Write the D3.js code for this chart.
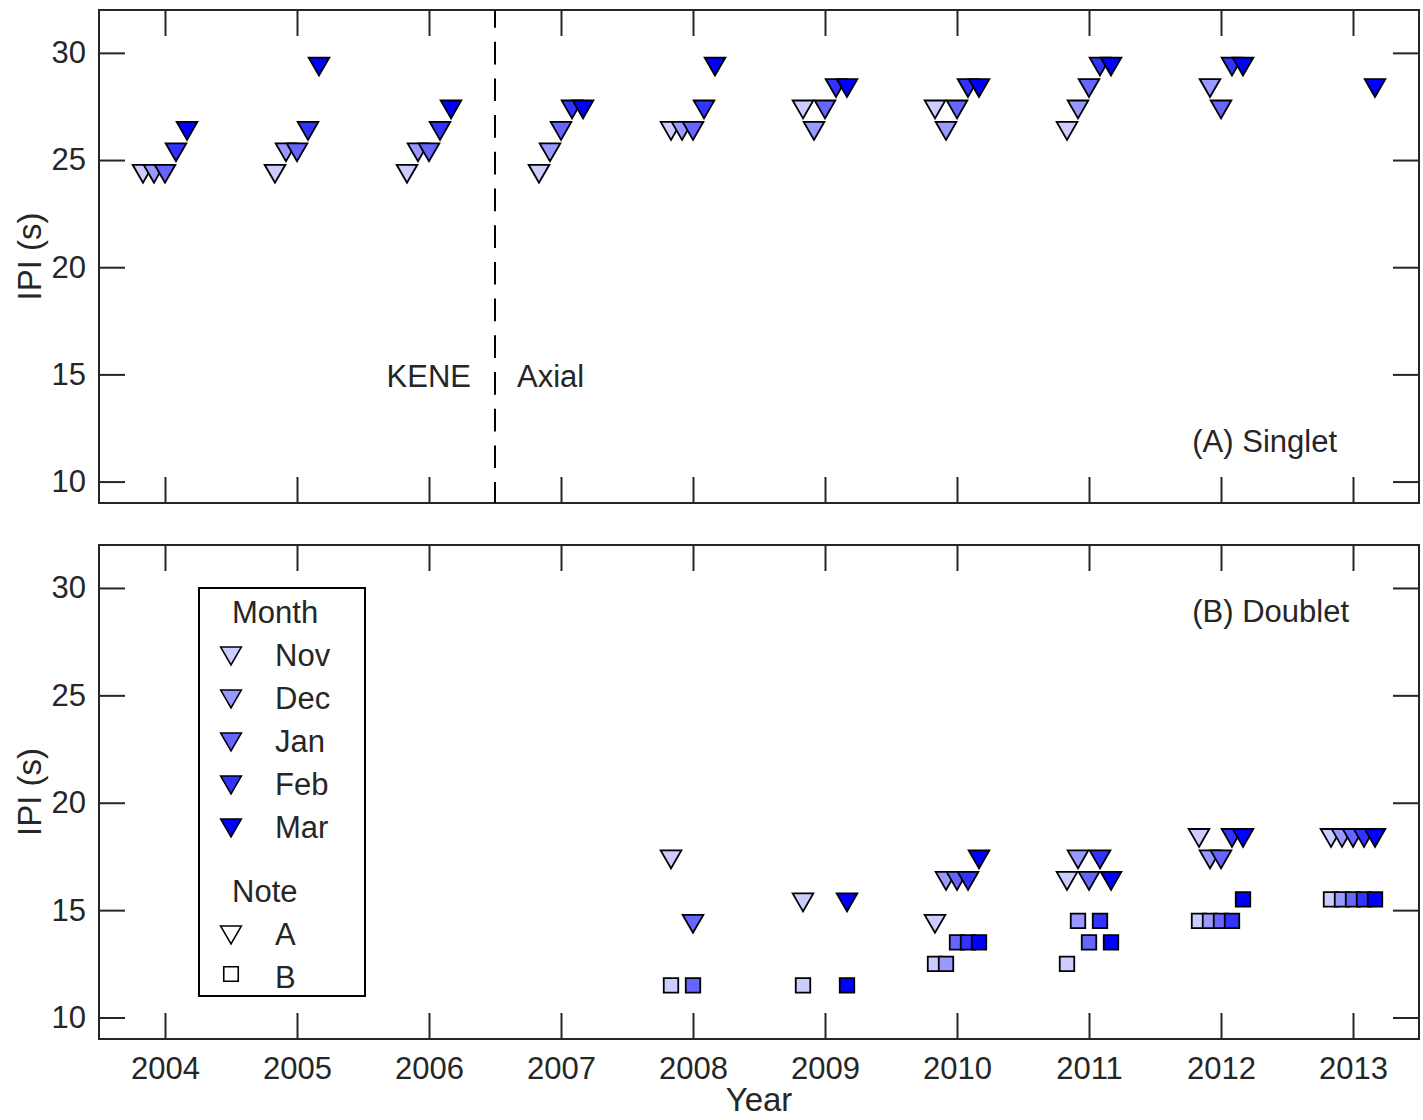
<!DOCTYPE html>
<html lang="en">
<head>
<meta charset="UTF-8">
<script src="https://d3js.org/d3.v7.min.js"></script>
<title>IPI by season</title>
<style>
  * { margin: 0; padding: 0; }
  body { background: #fff; }
  svg { display: block; font-family: "Liberation Sans", Arial, Helvetica, sans-serif; }
  .axis text { font-size: 31px; fill: #262626; }
  .axis line { stroke: #262626; stroke-width: 2; }
  .lbl { font-size: 31px; fill: #262626; }
  .title { font-size: 33px; fill: #262626; }
</style>
</head>
<body>
<svg id="chart" width="1423" height="1120"></svg>
<script>
// seasons (year of the Jan in each Nov-Mar season)
const seasons = [2004, 2005, 2006, 2007, 2008, 2009, 2010, 2011, 2012, 2013];
const months = ['Nov', 'Dec', 'Jan', 'Feb', 'Mar'];
const monthOffset = [-2, -1, 0, 1, 2]; // months from January
const yTicks = [10, 15, 20, 25, 30];

// IPI (s) per season (rows) and month (columns), null = nothing recorded
const singletA = [
  [24.5, 24.5, 24.5, 25.5, 26.5],
  [24.5, 25.5, 25.5, 26.5, 29.5],
  [24.5, 25.5, 25.5, 26.5, 27.5],
  [24.5, 25.5, 26.5, 27.5, 27.5],
  [26.5, 26.5, 26.5, 27.5, 29.5],
  [27.5, 26.5, 27.5, 28.5, 28.5],
  [27.5, 26.5, 27.5, 28.5, 28.5],
  [26.5, 27.5, 28.5, 29.5, 29.5],
  [null, 28.5, 27.5, 29.5, 29.5],
  [null, null, null, null, 28.5]
];
const doubletA = [
  [null, null, null, null, null],
  [null, null, null, null, null],
  [null, null, null, null, null],
  [null, null, null, null, null],
  [17.5, null, 14.5, null, null],
  [15.5, null, null, null, 15.5],
  [14.5, 16.5, 16.5, 16.5, 17.5],
  [16.5, 17.5, 16.5, 17.5, 16.5],
  [18.5, 17.5, 17.5, 18.5, 18.5],
  [18.5, 18.5, 18.5, 18.5, 18.5]
];
const doubletB = [
  [null, null, null, null, null],
  [null, null, null, null, null],
  [null, null, null, null, null],
  [null, null, null, null, null],
  [11.5, null, 11.5, null, null],
  [11.5, null, null, null, 11.5],
  [12.5, 12.5, 13.5, 13.5, 13.5],
  [12.5, 14.5, 13.5, 14.5, 13.5],
  [14.5, 14.5, 14.5, 14.5, 15.5],
  [15.5, 15.5, 15.5, 15.5, 15.5]
];

const colors = ['#ccccff', '#9999ff', '#6666ff', '#3333ff', '#0000ff'];
const svg = d3.select('#chart');
const left = 99, right = 1419, tick = 26;

const x = d3.scaleLinear().domain([2003.5, 2013.5]).range([left, right]);

const tri = d3.symbol().type(d3.symbolTriangle).size(185);
const sq = d3.symbol().type(d3.symbolSquare).size(210);

// flatten season x month table into points
function points(table) {
  const out = [];
  months.forEach((m, j) => {
    table.forEach((row, i) => {
      if (row[j] != null) out.push({ t: seasons[i] + monthOffset[j] / 12, v: row[j], m: j });
    });
  });
  return out;
}

function panel(top, bottom, series, showLabels) {
  const y = d3.scaleLinear().domain([9, 32]).range([bottom, top]);
  const g = svg.append('g');

  g.append('g').attr('class', 'axis')
    .attr('transform', `translate(0,${bottom})`)
    .call(d3.axisBottom(x).tickValues(seasons).tickSize(-tick).tickPadding(18)
      .tickFormat(showLabels ? d3.format('d') : ''));
  g.append('g').attr('class', 'axis')
    .attr('transform', `translate(0,${top})`)
    .call(d3.axisTop(x).tickValues(seasons).tickSize(-tick).tickFormat(''));
  g.append('g').attr('class', 'axis')
    .attr('transform', `translate(${left},0)`)
    .call(d3.axisLeft(y).tickValues(yTicks).tickSize(-tick).tickPadding(13));
  g.append('g').attr('class', 'axis')
    .attr('transform', `translate(${right},0)`)
    .call(d3.axisRight(y).tickValues(yTicks).tickSize(-tick).tickFormat(''));
  g.selectAll('.axis .domain').remove();

  g.append('rect')
    .attr('x', left).attr('y', top)
    .attr('width', right - left).attr('height', bottom - top)
    .attr('fill', 'none').attr('stroke', '#262626').attr('stroke-width', 2);

  g.append('text').attr('class', 'title')
    .attr('transform', `translate(29,${(top + bottom) / 2}) rotate(-90)`)
    .attr('text-anchor', 'middle').attr('dy', '0.35em')
    .text('IPI (s)');

  series.forEach(s => {
    g.append('g').selectAll('path')
      .data(points(s.table))
      .join('path')
      .attr('d', s.shape === 'tri' ? tri : sq)
      .attr('transform', d => `translate(${x(d.t)},${y(d.v)})` + (s.shape === 'tri' ? ' rotate(180)' : ''))
      .attr('fill', d => colors[d.m])
      .attr('stroke', '#000')
      .attr('stroke-width', 1.8);
  });
  return { g, y };
}

// (A) Singlet
const pa = panel(10, 503, [{ table: singletA, shape: 'tri' }], false);
pa.g.append('line')
  .attr('x1', x(2006.5)).attr('x2', x(2006.5))
  .attr('y1', 10).attr('y2', 503)
  .attr('stroke', '#000').attr('stroke-width', 2)
  .attr('stroke-dasharray', '22.7,14').attr('stroke-dashoffset', 5);
pa.g.append('text').attr('class', 'lbl')
  .attr('x', x(2006.5) - 24).attr('y', pa.y(15) + 2).attr('dy', '0.35em')
  .attr('text-anchor', 'end').text('KENE');
pa.g.append('text').attr('class', 'lbl')
  .attr('x', x(2006.5) + 22).attr('y', pa.y(15) + 2).attr('dy', '0.35em')
  .text('Axial');
pa.g.append('text').attr('class', 'lbl')
  .attr('x', 1337).attr('y', 441).attr('dy', '0.35em')
  .attr('text-anchor', 'end').text('(A) Singlet');

// (B) Doublet
const pb = panel(545, 1039, [
  { table: doubletA, shape: 'tri' },
  { table: doubletB, shape: 'sq' }
], true);
pb.g.append('text').attr('class', 'lbl')
  .attr('x', 1349).attr('y', 611).attr('dy', '0.35em')
  .attr('text-anchor', 'end').text('(B) Doublet');

svg.append('text').attr('class', 'title')
  .attr('x', (left + right) / 2).attr('y', 1111)
  .attr('text-anchor', 'middle').text('Year');

// legend
const lg = svg.append('g');
lg.append('rect')
  .attr('x', 199).attr('y', 588).attr('width', 166).attr('height', 408)
  .attr('fill', '#fff').attr('stroke', '#000').attr('stroke-width', 2);
lg.append('text').attr('class', 'lbl').attr('x', 232).attr('y', 612)
  .attr('dy', '0.35em').text('Month');
months.forEach((m, i) => {
  const yy = 655 + i * 43;
  lg.append('path').attr('d', tri)
    .attr('transform', `translate(231,${yy - 2}) rotate(180)`)
    .attr('fill', colors[i]).attr('stroke', '#000').attr('stroke-width', 1.6);
  lg.append('text').attr('class', 'lbl').attr('x', 275).attr('y', yy)
    .attr('dy', '0.35em').text(m);
});
lg.append('text').attr('class', 'lbl').attr('x', 232).attr('y', 891)
  .attr('dy', '0.35em').text('Note');
lg.append('path').attr('d', tri)
  .attr('transform', 'translate(231,932) rotate(180)')
  .attr('fill', '#fff').attr('stroke', '#000').attr('stroke-width', 1.6);
lg.append('text').attr('class', 'lbl').attr('x', 275).attr('y', 934)
  .attr('dy', '0.35em').text('A');
lg.append('path').attr('d', sq)
  .attr('transform', 'translate(231,974)')
  .attr('fill', '#fff').attr('stroke', '#000').attr('stroke-width', 1.6);
lg.append('text').attr('class', 'lbl').attr('x', 275).attr('y', 977)
  .attr('dy', '0.35em').text('B');
</script>
</body>
</html>
